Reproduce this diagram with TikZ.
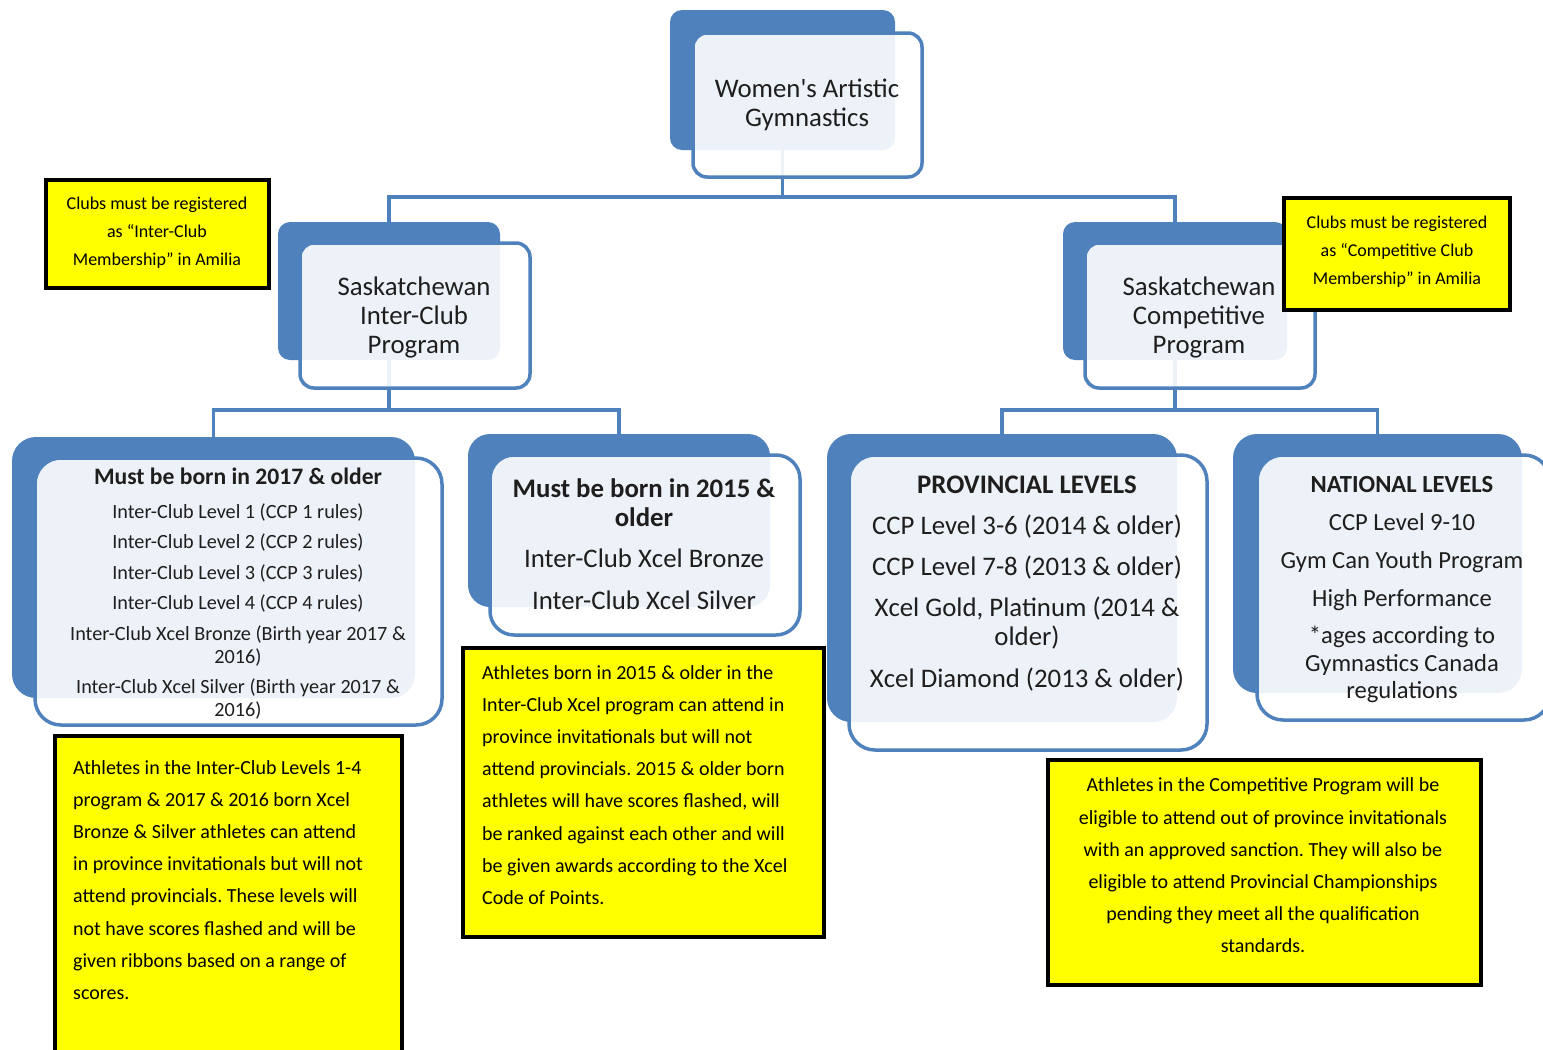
\documentclass[tikz,border=0pt]{standalone}
\usepackage{fontspec}
\setmainfont{Carlito}
\frenchspacing
\definecolor{smartblue}{RGB}{79,129,189}
\definecolor{notefill}{RGB}{255,255,0}
\definecolor{ink}{RGB}{30,30,30}

\begin{document}
\begin{tikzpicture}[x=1pt, y=-1pt,
    back/.style={fill=smartblue, rounded corners=#1, inner sep=0pt},
    back/.default=12pt,
    front/.style={draw=smartblue, line width=3.5pt, fill=white, fill opacity=0.9, rounded corners=#1, inner sep=0pt},
    front/.default=14pt,
    link/.style={draw=smartblue, line width=3.5pt},
    boxtxt/.style={align=center, inner sep=0pt, text=ink},
    note/.style={draw=black, line width=4.5pt, fill=notefill, inner sep=0pt},
    notetxt/.style={inner sep=0pt, text=black, font=\fontsize{20}{32.2}\selectfont}]

    \useasboundingbox (0,0) rectangle (1543,1050);

    % Back boxes
    \node[back, minimum width=225, minimum height=140] (wagB) at (782.5, 80) {};
    \node[back, minimum width=222, minimum height=138] (icB) at (389, 291) {};
    \node[back, minimum width=224, minimum height=138] (cpB) at (1175, 291) {};
    \node[back=24pt, minimum width=403, minimum height=261] (b17B) at (213.5, 567.5) {};
    \node[back=22pt, minimum width=302, minimum height=173] (b15B) at (619, 520.5) {};
    \node[back=24pt, minimum width=350, minimum height=288] (provB) at (1002, 578) {};
    \node[back=24pt, minimum width=289, minimum height=259] (natB) at (1377.5, 563.5) {};

    % Edges
    \draw[link] (wagB.south) -- ++(0,47) -| (icB.north);
    \draw[link] (wagB.south) -- ++(0,47) -| (cpB.north);
    \draw[link] (icB.south) -- ++(0,50) -| (b17B.north);
    \draw[link] (icB.south) -- ++(0,50) -| (b15B.north);
    \draw[link] (cpB.south) -- ++(0,50) -| (provB.north);
    \draw[link] (cpB.south) -- ++(0,50) -| (natB.north);

    % Front boxes
    \node[front, minimum width=229, minimum height=144] (wagF) at (807.5, 105) {};
    \node[front, minimum width=230, minimum height=145] (icF) at (415, 315.5) {};
    \node[front, minimum width=230, minimum height=145] (cpF) at (1200, 315.5) {};
    \node[front=26pt, minimum width=407, minimum height=267] (b17F) at (238.5, 591.5) {};
    \node[front=24pt, minimum width=310, minimum height=180] (b15F) at (645, 545) {};
    \node[front=26pt, minimum width=358, minimum height=295] (provF) at (1028, 602.5) {};
    \node[front=26pt, minimum width=293, minimum height=265] (natF) at (1403.5, 587.5) {};

    % Box texts
    \node[boxtxt, font=\fontsize{26.8}{29}\selectfont] (wag) at (807, 104.5)
        {Women\textquotesingle s Artistic\\Gymnastics};
    \node[boxtxt, font=\fontsize{26.8}{29}\selectfont] (ic) at (414, 317)
        {Saskatchewan\\Inter-Club\\Program};
    \node[boxtxt, font=\fontsize{26.8}{29}\selectfont] (cp) at (1199, 317)
        {Saskatchewan\\Competitive\\Program};
    \node[boxtxt, font=\fontsize{20.2}{23}\selectfont] (b17) at (238, 593.5)
        {{\bfseries\fontsize{23.6}{23}\selectfont Must be born in 2017 \& older}\\[11pt]
         Inter-Club Level 1 (CCP 1 rules)\\[7.5pt]
         Inter-Club Level 2 (CCP 2 rules)\\[7.5pt]
         Inter-Club Level 3 (CCP 3 rules)\\[7.5pt]
         Inter-Club Level 4 (CCP 4 rules)\\[7.5pt]
         Inter-Club Xcel Bronze (Birth year 2017 \&\\
         2016)\\[7.5pt]
         Inter-Club Xcel Silver (Birth year 2017 \&\\
         2016)};
    \node[boxtxt, font=\fontsize{26.8}{29}\selectfont] (b15) at (644, 544)
        {\textbf{Must be born in 2015 \&}\\
         \textbf{older}\\[12pt]
         Inter-Club Xcel Bronze\\[12.5pt]
         Inter-Club Xcel Silver};
    \node[boxtxt, font=\fontsize{26.8}{29}\selectfont] (prov) at (1027, 584)
        {\textbf{PROVINCIAL LEVELS}\\[12pt]
         CCP Level 3-6 (2014 \& older)\\[12pt]
         CCP Level 7-8 (2013 \& older)\\[12pt]
         Xcel Gold, Platinum (2014 \&\\
         older)\\[13pt]
         Xcel Diamond (2013 \& older)};
    \node[boxtxt, font=\fontsize{24.6}{27.5}\selectfont] (nat) at (1402, 589.5)
        {\textbf{NATIONAL LEVELS}\\[10.5pt]
         CCP Level 9-10\\[11pt]
         Gym Can Youth Program\\[10.5pt]
         High Performance\\[9.5pt]
         *ages according to\\
         Gymnastics Canada\\
         regulations};

    % Yellow notes
    \node[note, minimum width=223, minimum height=108] (noteIC) at (157.5, 234) {};
    \node[notetxt, align=center, font=\fontsize{18}{28}\selectfont] (noteICt) at (157, 233)
        {Clubs must be registered\\as “Inter-Club\\Membership” in Amilia};

    \node[note, minimum width=226, minimum height=112] (noteCP) at (1397, 254) {};
    \node[notetxt, align=center, font=\fontsize{18}{28}\selectfont] (noteCPt) at (1397, 252)
        {Clubs must be registered\\as “Competitive Club\\Membership” in Amilia};

    \node[note, minimum width=347, minimum height=340] (noteIL) at (228.5, 906) {};
    \node[notetxt, align=left, anchor=west] (noteILt) at (73, 880)
        {Athletes in the Inter-Club Levels 1-4\\
         program \& 2017 \& 2016 born Xcel\\
         Bronze \& Silver athletes can attend\\
         in province invitationals but will not\\
         attend provincials. These levels will\\
         not have scores flashed and will be\\
         given ribbons based on a range of\\
         scores.};

    \node[note, minimum width=361, minimum height=289] (noteXcel) at (643.5, 792.5) {};
    \node[notetxt, align=left, anchor=west] (noteXcelt) at (482, 785)
        {Athletes born in 2015 \& older in the\\
         Inter-Club Xcel program can attend in\\
         province invitationals but will not\\
         attend provincials. 2015 \& older born\\
         athletes will have scores flashed, will\\
         be ranked against each other and will\\
         be given awards according to the Xcel\\
         Code of Points.};

    \node[note, minimum width=433, minimum height=225] (noteComp) at (1264.5, 872.5) {};
    \node[notetxt, align=center] (noteCompt) at (1263, 865.5)
        {Athletes in the Competitive Program will be\\
         eligible to attend out of province invitationals\\
         with an approved sanction. They will also be\\
         eligible to attend Provincial Championships\\
         pending they meet all the qualification\\
         standards.};
\end{tikzpicture}
\end{document}
